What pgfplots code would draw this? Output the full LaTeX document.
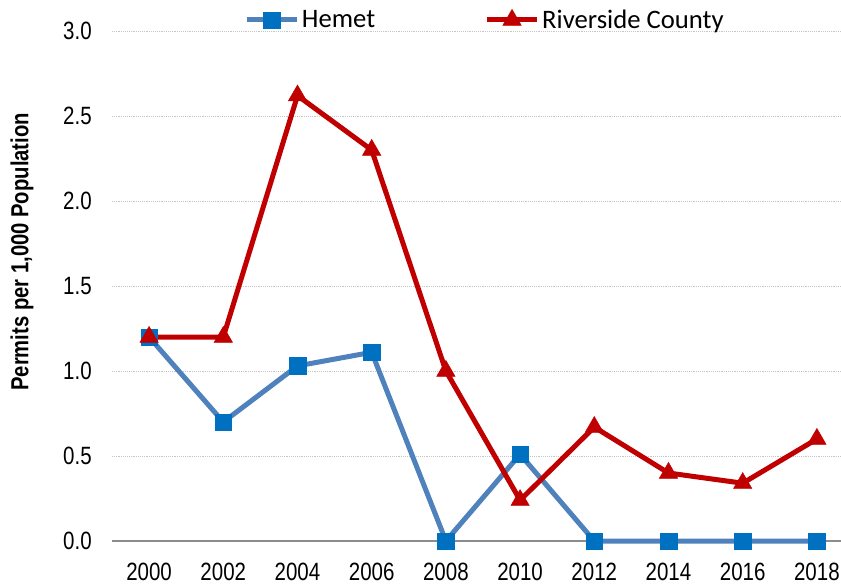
\documentclass[border=0pt]{standalone}
\usepackage{pgfplots}
\pgfplotsset{compat=1.18}
\usepackage{fontspec}
\setmainfont{Liberation Sans}
\newfontfamily\narrowfont[FakeStretch=0.82]{Liberation Sans}
\newfontfamily\calfont{Carlito}
\definecolor{hline}{HTML}{4F81BD}
\definecolor{hmark}{HTML}{0070C0}
\definecolor{rcol}{HTML}{C00000}
\begin{document}
\begin{tikzpicture}
\begin{axis}[
  scale only axis,
  width=546.75pt, height=382.5pt,
  xmin=1999, xmax=2018.65,
  ymin=0, ymax=3,
  xtick={2000,2002,...,2018},
  ytick={0,0.5,...,3},
  axis x line*=bottom, axis y line*=left,
  x axis line style={draw=gray!90, line width=1.5pt, -},
  y axis line style={draw=none},
  xtick style={draw=none}, ytick style={draw=none},
  ymajorgrids, grid style={densely dotted, gray!45, line width=0.7pt},
  /pgf/number format/assume math mode=true,
  xticklabel style={font=\narrowfont\fontsize{18.75}{20}\selectfont, inner sep=0pt, anchor=north, yshift=-16pt},
  yticklabel style={font=\narrowfont\fontsize{18.75}{20}\selectfont, inner sep=0pt, anchor=east, xshift=-15pt},
  xticklabel={\pgfmathprintnumber[1000 sep={},fixed,precision=0]{\tick}},
  yticklabel={\pgfmathprintnumber[fixed,fixed zerofill,precision=1]{\tick}},
  ylabel={\narrowfont\bfseries\fontsize{18.5}{20}\selectfont Permits per 1,000 Population},
  ylabel style={at={(axis description cs:-0.1235,0.567)}, anchor=center, rotate=0},
  legend style={draw=none, fill=none, at={(axis description cs:0.512,1.0216)}, anchor=center,
    font=\calfont\fontsize{20}{22}\selectfont, legend columns=2,
    /tikz/every even column/.append style={column sep=80pt}},
  legend image code/.code={
    \draw[#1, mark=none] (0cm,0cm) -- (1.32cm,0cm);
    \path[#1] plot coordinates {(0.66cm,0cm)};
  },
  clip=false,
]
\coordinate (O) at (rel axis cs:0,0);
\addplot[hline, line width=3.75pt, mark=square*, mark size=6.2pt,
  mark options={fill=hmark, draw=hmark, line width=0.3pt, solid}]
  coordinates {(2000,1.20) (2002,0.70) (2004,1.03) (2006,1.11) (2008,0.00) (2010,0.51) (2012,0.00) (2014,0.00) (2016,0.00) (2018,0.00)};
\addlegendentry{Hemet}
\addplot[rcol, line width=3.75pt, mark=triangle*, mark size=8pt,
  mark options={fill=rcol, draw=rcol, line width=0.3pt, solid}]
  coordinates {(2000,1.20) (2002,1.20) (2004,2.62) (2006,2.30) (2008,1.00) (2010,0.24) (2012,0.67) (2014,0.40) (2016,0.34) (2018,0.60)};
\addlegendentry{Riverside County}
\end{axis}
\pgfresetboundingbox
\path[use as bounding box] ([shift={(-84pt,-34.5pt)}]O) rectangle ++(630.75pt,440.25pt);
\end{tikzpicture}
\end{document}
